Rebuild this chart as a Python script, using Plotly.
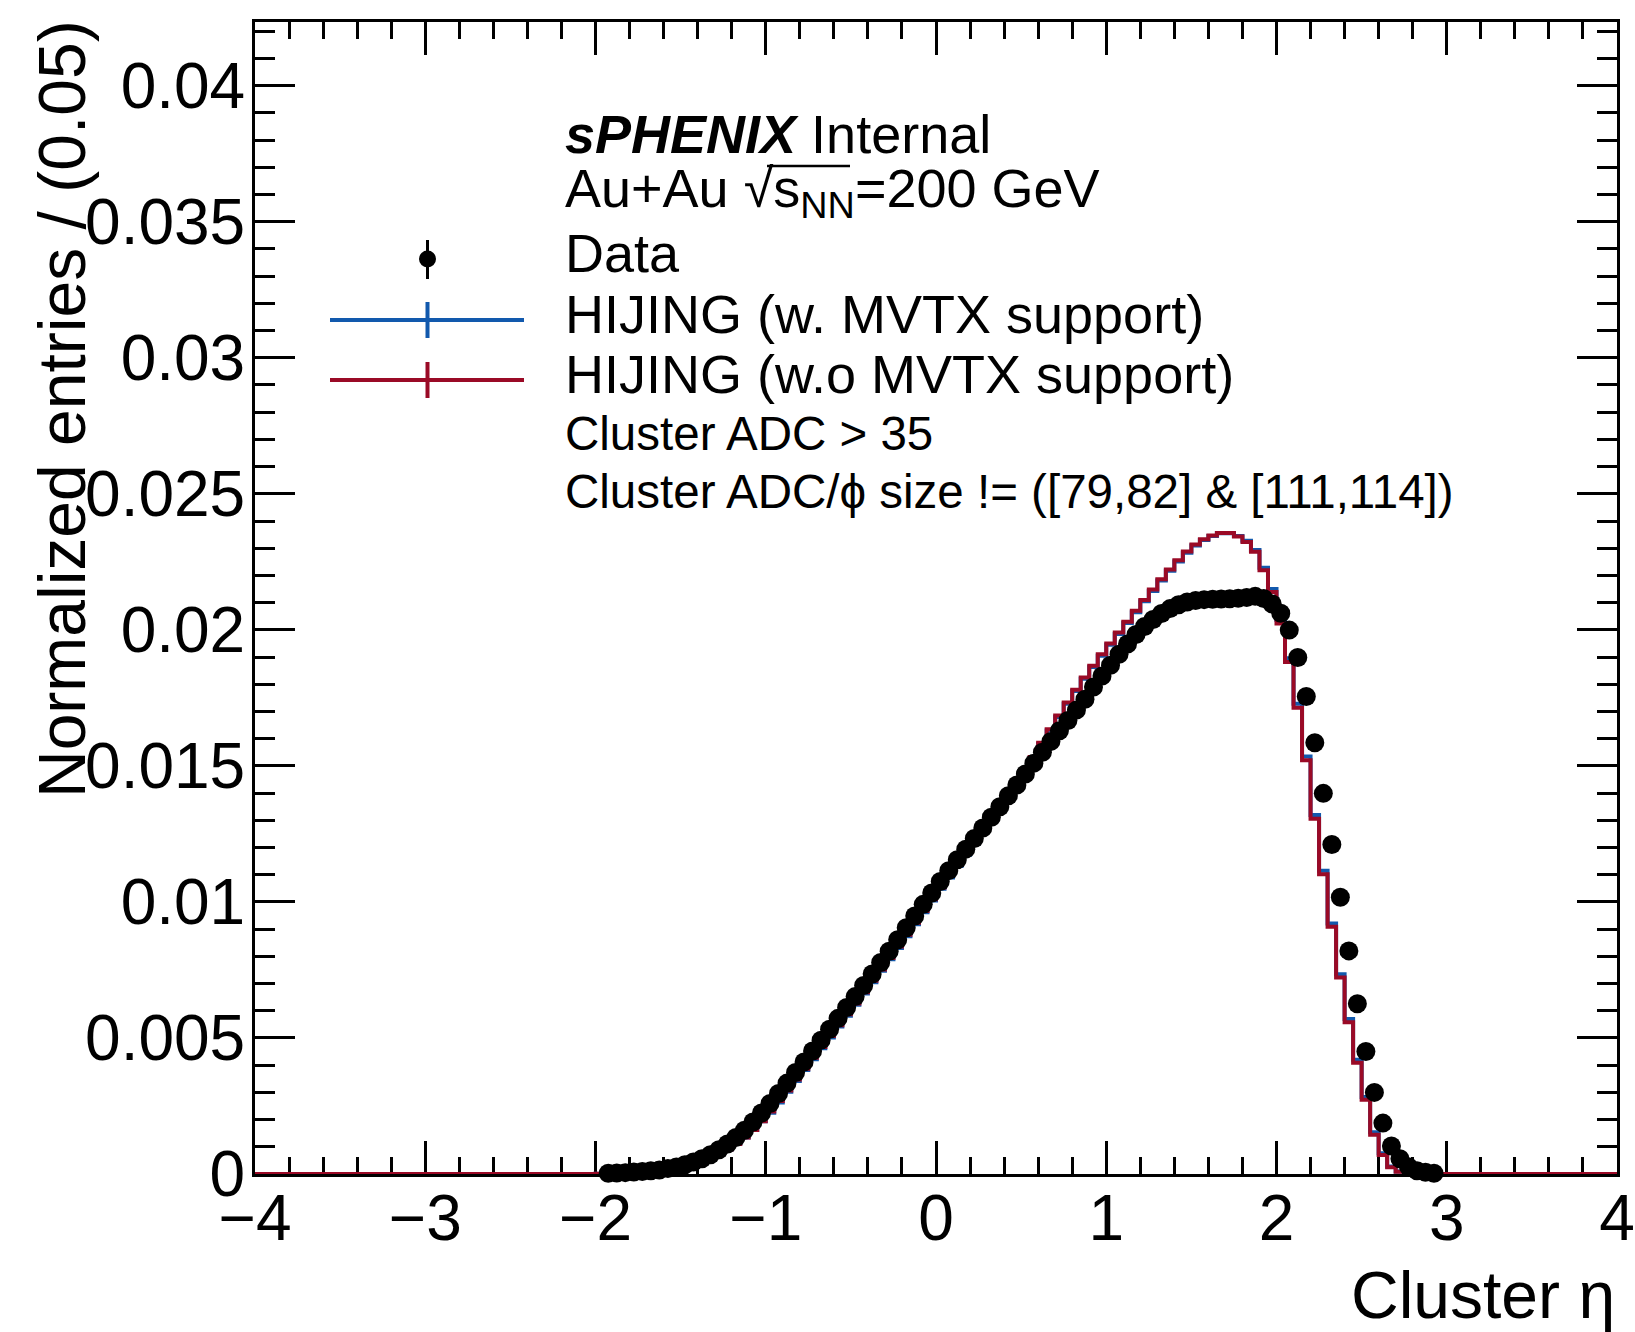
import numpy as np
import plotly.graph_objects as go

# ---------------- binning ----------------
BIN_LO, BIN_HI, BIN_W = -4.0, 4.0, 0.05
NBINS = 160

# ---------------- data (values in units of 1e-3), bin centres start at -1.925 ----------------
DATA_FIRST_CENTER = -1.925
data_vals = [
    0.03, 0.04, 0.05, 0.07, 0.09, 0.12, 0.15, 0.20, 0.26, 0.34,          # -1.925 .. -1.475
    0.44, 0.56, 0.71, 0.89, 1.10, 1.34, 1.61, 1.91, 2.24,                # -1.425 .. -1.025
    2.59, 2.96, 3.34, 3.73, 4.12, 4.52, 4.92, 5.32, 5.72, 6.12,          # -0.975 .. -0.525
    6.52, 6.93, 7.35, 7.77, 8.19, 8.61, 9.05, 9.48, 9.91, 10.33,         # -0.475 .. -0.025
    10.75, 11.15, 11.55, 11.94, 12.33, 12.72, 13.11, 13.50, 13.90, 14.30,  # 0.025 .. 0.475
    14.70, 15.10, 15.50, 15.90, 16.29, 16.67, 17.05, 17.45, 17.90, 18.30,  # 0.525 .. 0.975
    18.70, 19.10, 19.48, 19.83, 20.12, 20.38, 20.60, 20.78, 20.92, 21.02,  # 1.025 .. 1.475
    21.08, 21.11, 21.12, 21.13, 21.14, 21.16, 21.19, 21.23, 21.15, 20.95,  # 1.525 .. 1.975
    20.61, 19.99, 18.98, 17.55, 15.85, 13.99, 12.11, 10.17, 8.20, 6.26,    # 2.025 .. 2.475
    4.50, 3.00, 1.87, 1.03, 0.56, 0.27, 0.12, 0.06, 0.03,                  # 2.525 .. 2.925
]

# ---------------- HIJING histograms (units of 1e-3), bin centres start at -1.975 ----------------
MC_FIRST_CENTER = -1.975
hijing_wo_vals = [   # HIJING (w.o MVTX support) - red
    0.01, 0.02, 0.03, 0.04, 0.05, 0.07, 0.09, 0.12, 0.16, 0.21,            # -1.975 .. -1.525
    0.27, 0.35, 0.45, 0.57, 0.72, 0.90, 1.10, 1.34, 1.62, 1.94,            # -1.475 .. -1.025
    2.30, 2.68, 3.07, 3.47, 3.87, 4.27, 4.67, 5.07, 5.47, 5.87,            # -0.975 .. -0.525
    6.27, 6.68, 7.10, 7.52, 7.94, 8.36, 8.79, 9.23, 9.67, 10.10,           # -0.475 .. -0.025
    10.53, 10.95, 11.37, 11.78, 12.19, 12.60, 13.01, 13.42, 13.85, 14.32,  # 0.025 .. 0.475
    14.82, 15.33, 15.85, 16.35, 16.85, 17.33, 17.80, 18.25, 18.68, 19.10,  # 0.525 .. 0.975
    19.50, 19.90, 20.30, 20.70, 21.10, 21.48, 21.86, 22.22, 22.56, 22.88,  # 1.025 .. 1.475
    23.14, 23.33, 23.47, 23.56, 23.56, 23.43, 23.23, 22.87, 22.19, 21.39,  # 1.525 .. 1.975
    20.23, 18.82, 17.14, 15.21, 13.06, 11.02, 9.09, 7.22, 5.58, 4.09,      # 2.025 .. 2.475
    2.73, 1.44, 0.70, 0.25, 0.08, 0.02,                                    # 2.525 .. 2.775
]
hijing_w_vals = [    # HIJING (w. MVTX support) - blue
    0.01, 0.02, 0.03, 0.04, 0.05, 0.07, 0.09, 0.12, 0.16, 0.21,
    0.27, 0.35, 0.45, 0.57, 0.72, 0.90, 1.10, 1.34, 1.62, 1.94,
    2.25, 2.63, 3.02, 3.42, 3.82, 4.22, 4.62, 5.02, 5.42, 5.82,
    6.22, 6.63, 7.05, 7.47, 7.89, 8.31, 8.74, 9.18, 9.62, 10.05,
    10.48, 10.90, 11.32, 11.73, 12.14, 12.55, 12.96, 13.37, 13.80, 14.27,
    14.77, 15.28, 15.80, 16.30, 16.80, 17.28, 17.75, 18.20, 18.63, 19.05,
    19.45, 19.85, 20.25, 20.65, 21.05, 21.43, 21.81, 22.17, 22.51, 22.83,
    23.10, 23.30, 23.45, 23.55, 23.55, 23.45, 23.27, 22.93, 22.28, 21.50,
    20.36, 18.96, 17.28, 15.34, 13.19, 11.15, 9.21, 7.34, 5.70, 4.20,
    2.83, 1.53, 0.76, 0.28, 0.09, 0.02,
]
VAL_SCALE = 1e-3

# ---------------- axis ticks ----------------
X_RANGE = [-4, 4]
Y_RANGE = [0, 0.04234]
x_tickvals = [-4, -3, -2, -1, 0, 1, 2, 3, 4]
x_ticktext = ["\u22124", "\u22123", "\u22122", "\u22121", "0", "1", "2", "3", "4"]
y_tickvals = [0, 0.005, 0.01, 0.015, 0.02, 0.025, 0.03, 0.035, 0.04]
y_ticktext = ["0", "0.005", "0.01", "0.015", "0.02", "0.025", "0.03", "0.035", "0.04"]

BLUE = "#1259ad"
RED = "#9a0a26"
FONT = "Liberation Sans"

# ---------------- build histograms ----------------
edges = BIN_LO + BIN_W * np.arange(NBINS + 1)


def full_hist(first_center, vals):
    h = np.zeros(NBINS)
    i0 = int(round((first_center - BIN_LO) / BIN_W - 0.5))
    h[i0:i0 + len(vals)] = np.array(vals) * VAL_SCALE
    return h


h_blue = full_hist(MC_FIRST_CENTER, hijing_w_vals)
h_red = full_hist(MC_FIRST_CENTER, hijing_wo_vals)
data_x = DATA_FIRST_CENTER + BIN_W * np.arange(len(data_vals))
data_y = np.array(data_vals) * VAL_SCALE

fig = go.Figure()
for h, col, name in [(h_blue, BLUE, "HIJING (w. MVTX support)"),
                     (h_red, RED, "HIJING (w.o MVTX support)")]:
    fig.add_trace(go.Scatter(x=edges, y=np.append(h, h[-1]), mode="lines",
                             line=dict(color=col, width=4, shape="hv"),
                             name=name, cliponaxis=False))
fig.add_trace(go.Scatter(x=data_x, y=data_y, mode="markers", name="Data",
                         marker=dict(color="black", size=19, line=dict(width=0)),
                         cliponaxis=False))

# ---------------- layout ----------------
W, H = 1635, 1332
ML, MR, MT, MB = 255, 18, 22, 158
PW, PH = W - ML - MR, H - MT - MB


def fx(px):
    return (px - ML) / PW


def fy(py):
    return (H - MB - py) / PH


fig.update_layout(
    width=W, height=H,
    margin=dict(l=ML, r=MR, t=MT, b=MB, pad=0, autoexpand=False),
    plot_bgcolor="white", paper_bgcolor="white",
    showlegend=False,
    font=dict(family=FONT, color="black"),
)
axis_common = dict(showgrid=False, zeroline=False, showline=True, linewidth=3,
                   linecolor="black", mirror="allticks", ticks="inside",
                   tickwidth=3, tickcolor="black", layer="below traces",
                   automargin=False,
                   tickfont=dict(size=64, family=FONT, color="black"))
fig.update_xaxes(range=X_RANGE, tickmode="array", tickvals=x_tickvals, ticktext=x_ticktext,
                 ticklen=33, ticklabelstandoff=-14,
                 minor=dict(ticks="inside", ticklen=17, tickwidth=3, tickcolor="black",
                            dtick=0.2, tick0=0, showgrid=False),
                 **axis_common)
fig.update_yaxes(range=Y_RANGE, tickmode="array", tickvals=y_tickvals, ticktext=y_ticktext,
                 ticklen=40, ticklabelstandoff=-6,
                 minor=dict(ticks="inside", ticklen=20, tickwidth=3, tickcolor="black",
                            dtick=0.001, tick0=0, showgrid=False),
                 **axis_common)

ann = []
# axis titles
ann.append(dict(text="Cluster \u03b7", x=1.0, xref="paper", y=fy(1295), yref="paper",
                xanchor="right", yanchor="middle", showarrow=False,
                font=dict(size=66, family=FONT)))
ann.append(dict(text="Normalized entries / (0.05)", x=fx(62), xref="paper", y=fy(18), yref="paper",
                xanchor="center", yanchor="top", textangle=-90, showarrow=False,
                font=dict(size=66, family=FONT)))
# legend / label texts
TX = 563
lines = [
    ("<b><i>sPHENIX</i></b> Internal", 134, 54),
    ("Au+Au \u221as<sub>NN</sub>=200 GeV", 192, 54),
    ("Data", 252.5, 54),
    ("HIJING (w. MVTX support)", 314, 54),
    ("HIJING (w.o MVTX support)", 374, 54),
    ("Cluster ADC > 35", 434, 47.5),
    ("Cluster ADC/\u03d5 size != ([79,82] & [111,114])", 491, 47.5),
]
for t, py, fs in lines:
    ann.append(dict(text=t, x=fx(TX), xref="paper", y=fy(py), yref="paper",
                    xanchor="left", yanchor="middle", showarrow=False,
                    font=dict(size=fs, family=FONT)))
fig.update_layout(annotations=ann)

shapes = []
# data legend marker
shapes.append(dict(type="line", xref="paper", yref="paper", x0=fx(427.5), x1=fx(427.5),
                   y0=fy(240), y1=fy(279), line=dict(color="black", width=3)))
shapes.append(dict(type="circle", xref="paper", yref="paper", x0=fx(419), x1=fx(436),
                   y0=fy(250.5), y1=fy(267.5), fillcolor="black", line=dict(color="black", width=0)))
for col, py, vy0, vy1 in [(BLUE, 320, 302, 338), (RED, 380, 362, 398)]:
    shapes.append(dict(type="line", xref="paper", yref="paper", x0=fx(330), x1=fx(524),
                       y0=fy(py), y1=fy(py), line=dict(color=col, width=4)))
    shapes.append(dict(type="line", xref="paper", yref="paper", x0=fx(427.5), x1=fx(427.5),
                       y0=fy(vy0), y1=fy(vy1), line=dict(color=col, width=4)))
# overline of the square root
shapes.append(dict(type="line", xref="paper", yref="paper", x0=fx(767), x1=fx(850),
                   y0=fy(166), y1=fy(166), line=dict(color="black", width=2.5)))
fig.update_layout(shapes=shapes)

fig.write_html("out.html")
